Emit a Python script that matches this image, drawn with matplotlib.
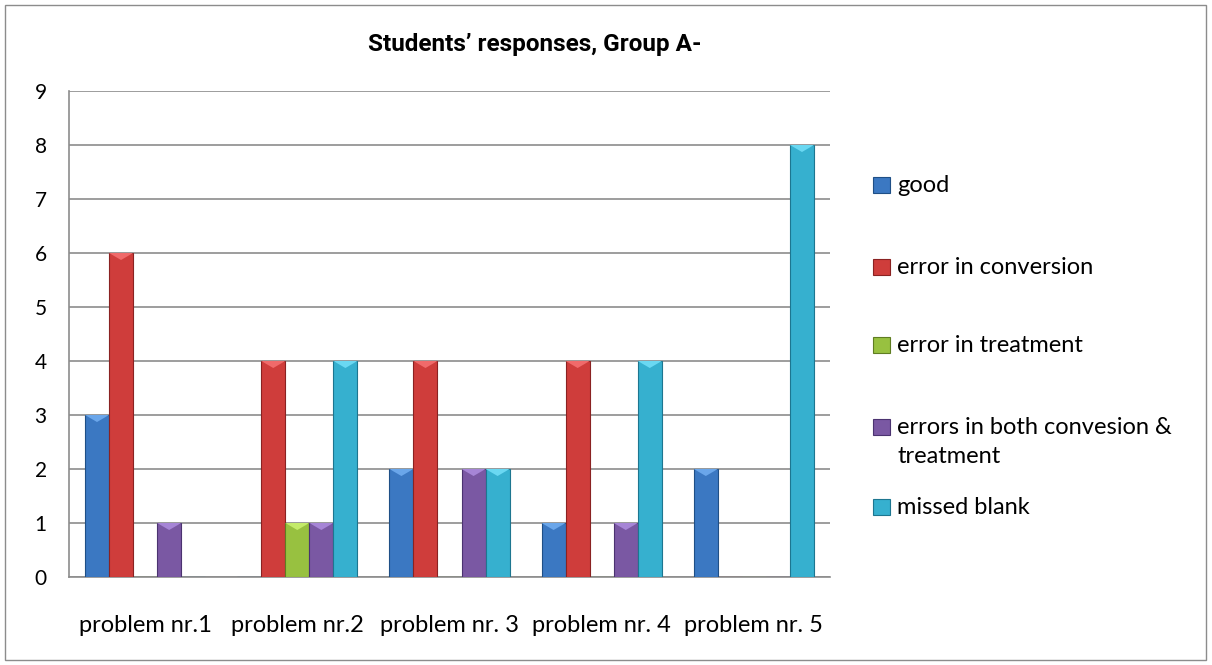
import matplotlib.pyplot as plt
from matplotlib.patches import Rectangle
import numpy as np

# Dữ liệu
problems = ['problem nr.1', 'problem nr.2', 'problem nr. 3', 'problem nr. 4', 'problem nr. 5']
series_names = ['good', 'error in conversion', 'error in treatment',
                'errors in both convesion &\ntreatment', 'missed blank']
good = [3, 0, 2, 1, 2]
err_conversion = [6, 4, 4, 4, 0]
err_treatment = [0, 1, 0, 0, 0]
err_both = [1, 1, 2, 1, 0]
missed_blank = [0, 4, 2, 4, 8]

colors = ['#3b78c2', '#cf3d3b', '#98c140', '#7a58a3', '#36b0cf']
edges = ['#1f4f86', '#8a2222', '#5f7d22', '#4b3370', '#1d7690']
tops = ['#6aa6ea', '#f06a6a', '#c4eb6a', '#a685d6', '#6ad8f2']

plt.rcParams['font.family'] = ['Lato', 'DejaVu Sans']

fig = plt.figure(figsize=(12.12, 6.65), dpi=100)
ax = fig.add_axes([69 / 1212, 1 - 577 / 665, (830 - 69) / 1212, (577 - 91) / 665])

x = np.arange(len(problems))
w = 0.158
all_series = [good, err_conversion, err_treatment, err_both, missed_blank]
for i, vals in enumerate(all_series):
    bars = ax.bar(x + (i - 2) * w, vals, w, color=colors[i], edgecolor=edges[i],
                  linewidth=0.8, zorder=3)
    # tam giác sáng ở đỉnh cột (hiệu ứng vát)
    for b in bars:
        h = b.get_height()
        if h <= 0:
            continue
        x0 = b.get_x()
        ax.fill([x0, x0 + w, x0 + w / 2], [h, h, h - 0.13],
                color=tops[i], zorder=4, linewidth=0)

ax.set_xlim(-0.5, 4.5)
ax.set_ylim(0, 9)
ax.set_yticks(range(0, 10))
ax.set_xticks(x)
ax.set_xticklabels(problems, fontsize=17)
ax.tick_params(axis='x', length=0, pad=27)
ax.tick_params(axis='y', labelsize=15, length=0, pad=16)
ax.grid(axis='y', color='#8c8c8c', linewidth=1.2, zorder=0)
for s in ['top', 'right']:
    ax.spines[s].set_visible(False)
for s in ['left', 'bottom']:
    ax.spines[s].set_color('#8c8c8c')
    ax.spines[s].set_linewidth(1.2)

fig.text(535 / 1212, 1 - 45 / 665, 'Students\u2019 responses, Group A-',
         ha='center', va='center', fontsize=17.5, fontweight='bold',
         family=['Roboto', 'DejaVu Sans'])

# Chú thích (legend) vẽ tay
leg_y = [185, 267, 345, 427, 507]
for i, name in enumerate(series_names):
    y = 1 - leg_y[i] / 665
    fig.patches.append(Rectangle((873 / 1212, y - 8 / 665), 17 / 1212, 16 / 665,
                                 transform=fig.transFigure, facecolor=colors[i],
                                 edgecolor=edges[i], linewidth=0.8))
    fig.text(897 / 1212, y + 10 / 665, name, ha='left', va='top', fontsize=17,
             linespacing=1.45)

# Khung ngoài
fig.patches.append(Rectangle((5 / 1212, 5 / 665), 1201 / 1212, 655 / 665,
                             transform=fig.transFigure, fill=False,
                             edgecolor='#8c8c8c', linewidth=1))

fig.savefig('out.png', dpi=100)
